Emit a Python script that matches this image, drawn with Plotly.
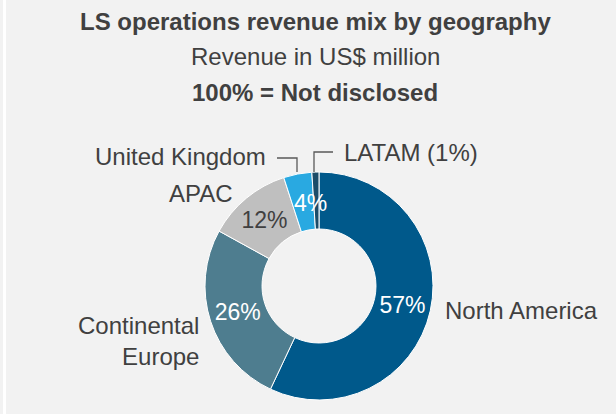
import plotly.graph_objects as go

W, H = 616, 414

regions = ["North America", "Continental Europe", "APAC", "United Kingdom", "LATAM"]
shares = [57, 26, 12, 4, 1]
inside_labels = ["57%", "26%", "12%", "", ""]
colors = ["#00598b", "#4e7d8f", "#bfbfbf", "#29a9e1", "#1b4c69"]
text_colors = ["white", "white", "#404040", "white", "white"]

TXT = "#404040"
FONT = "Liberation Sans, Arial, sans-serif"


def px(x, y):
    # pixel position -> paper coords (margins are zero)
    return x / W, (H - y) / H


# donut centre and radius in pixels
cx, cy, r = 319, 286, 114
x0, y0 = px(cx - r, cy + r)
x1, y1 = px(cx + r, cy - r)

fig = go.Figure(go.Pie(
    labels=regions,
    values=shares,
    text=inside_labels,
    textinfo="text",
    textposition="inside",
    insidetextorientation="horizontal",
    insidetextfont=dict(color=text_colors, size=23, family=FONT),
    marker=dict(colors=colors, line=dict(color="white", width=1)),
    hole=0.5,
    sort=False,
    direction="clockwise",
    rotation=0,
    domain=dict(x=[x0, x1], y=[y0, y1]),
    showlegend=False,
    hoverinfo="label+percent",
))

# outside labels
outside = [
    ("North America", 443, 320, "left"),
    ("Continental<br>Europe", 201, 341, "right"),
    ("APAC", 235, 203, "right"),
    ("United Kingdom", 268, 166, "right"),
    ("LATAM (1%)", 342, 162, "left"),
]
annotations = []
for txt, ax, ay, align in outside:
    xx, yy = px(ax, ay)
    annotations.append(dict(
        text=txt, x=xx, y=yy, xref="paper", yref="paper",
        xanchor=align, yanchor="middle" if "<br>" in txt else "bottom",
        align=align, showarrow=False, yshift=-6 if "<br>" not in txt else 0,
        font=dict(size=24, color=TXT, family=FONT),
    ))

# UK share label sits over the slice edge (too wide to fit inside)
ux, uy = px(310, 203)
annotations.append(dict(
    text=f"{shares[3]}%", x=ux, y=uy, xref="paper", yref="paper",
    xanchor="center", yanchor="middle", showarrow=False,
    font=dict(size=23, color="white", family=FONT),
))

# title block
titles = [
    ("<b>LS operations revenue mix by geography</b>", 21, 24),
    ("Revenue in US$ million", 56, 24),
    ("<b>100% = Not disclosed</b>", 92, 24),
]
for txt, ty, size in titles:
    xx, yy = px(315, ty)
    annotations.append(dict(
        text=txt, x=xx, y=yy, xref="paper", yref="paper",
        xanchor="center", yanchor="middle", showarrow=False,
        font=dict(size=size, color=TXT, family=FONT),
    ))

# leader lines and left border strip
shapes = []
leaders = [
    [(277, 158), (297, 158), (297, 172)],
    [(314, 172), (314, 152), (333, 152)],
]
for pts in leaders:
    path = "M " + " L ".join(f"{px(a, b)[0]},{px(a, b)[1]}" for a, b in pts)
    shapes.append(dict(type="path", path=path, xref="paper", yref="paper",
                       line=dict(color="#595959", width=1.3)))
sx0, _ = px(3, 0)
sx1, _ = px(6, 0)
shapes.append(dict(type="rect", x0=sx0, x1=sx1, y0=0, y1=1, xref="paper", yref="paper",
                   fillcolor="white", line=dict(width=0), layer="below"))

fig.update_layout(
    width=W, height=H,
    margin=dict(l=0, r=0, t=0, b=0),
    paper_bgcolor="#f2f2f2",
    plot_bgcolor="#f2f2f2",
    font=dict(family=FONT, color=TXT),
    annotations=annotations,
    shapes=shapes,
)

fig.write_html("out.html", config={"displayModeBar": False},
               post_script="document.body.style.margin='0px';")
